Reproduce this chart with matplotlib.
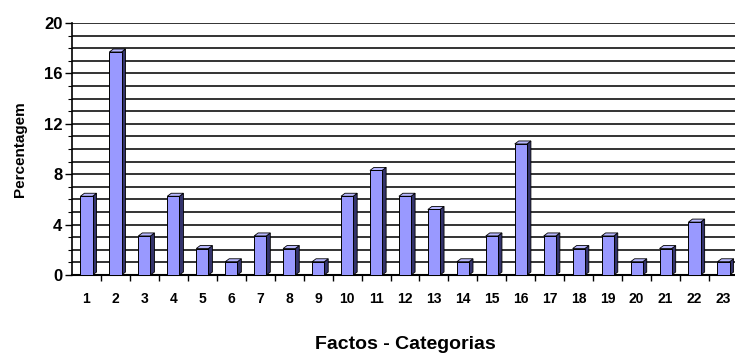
import matplotlib
matplotlib.use("Agg")
import matplotlib.pyplot as plt
from matplotlib.patches import Polygon
from matplotlib.ticker import MultipleLocator
from matplotlib.transforms import IdentityTransform

# data (percent per category)
categories = [str(i) for i in range(1, 24)]
percent = [6.25, 17.7, 3.1, 6.25, 2.1, 1.05, 3.1, 2.1, 1.05, 6.25, 8.3, 6.25,
           5.2, 1.05, 3.1, 10.4, 3.1, 2.1, 3.1, 1.05, 2.1, 4.2, 1.05]

plt.rcParams['font.family'] = ['Liberation Sans', 'DejaVu Sans']
plt.rcParams['font.weight'] = 'bold'

fig = plt.figure(figsize=(7.35, 3.61), dpi=100)
ax = fig.add_axes([72 / 735, 1 - 275 / 361, (738 - 72) / 735, (275 - 23) / 361])

x = list(range(1, len(categories) + 1))
w = 0.42
face = '#9999ff'
side = '#33336b'
top = '#b8b8ff'

ax.set_xlim(0.5, len(categories) + 0.5)
ax.set_ylim(0, 20)

bars = ax.bar(x, percent, width=w, color=face, edgecolor='black', linewidth=0.7, zorder=3)

# fake 3D depth: side and top faces in pixel offsets
dx, dy = 4, 3
for xi, v in zip(x, percent):
    (l, b), (r, t) = ax.transData.transform([(xi - w / 2, 0), (xi + w / 2, v)])
    sidepts = [(r, b), (r + dx, b + dy), (r + dx, t + dy), (r, t)]
    toppts = [(l, t), (r, t), (r + dx, t + dy), (l + dx, t + dy)]
    ax.add_patch(Polygon(sidepts, closed=True, facecolor=side, edgecolor='black',
                         linewidth=0.6, transform=IdentityTransform(), zorder=2.5, clip_on=False))
    ax.add_patch(Polygon(toppts, closed=True, facecolor=top, edgecolor='black',
                         linewidth=0.6, transform=IdentityTransform(), zorder=2.5, clip_on=False))

ax.yaxis.set_major_locator(MultipleLocator(4))
ax.yaxis.set_minor_locator(MultipleLocator(1))
ax.grid(axis='y', which='both', color='#111111', linewidth=1.2, zorder=0)
ax.set_axisbelow(True)

ax.set_xticks(x)
ax.set_xticklabels(categories)
ax.set_xticks([i + 0.5 for i in x[:-1]], minor=True)
ax.tick_params(axis='x', which='major', length=0, pad=12, labelsize=10)
ax.tick_params(axis='x', which='minor', length=4, width=1, direction='out')
ax.tick_params(axis='y', which='major', length=5, width=1, labelsize=12, pad=2)
ax.tick_params(axis='y', which='minor', length=3, width=0.8)

for s in ['top', 'right']:
    ax.spines[s].set_visible(False)
ax.spines['left'].set_linewidth(1.2)
ax.spines['bottom'].set_linewidth(1.5)

ax.set_ylabel('Percentagem', fontsize=11, fontweight='bold', labelpad=12)
ax.set_xlabel('Factos - Categorias', fontsize=14, fontweight='bold', labelpad=22)

fig.savefig('out.png', dpi=100)
